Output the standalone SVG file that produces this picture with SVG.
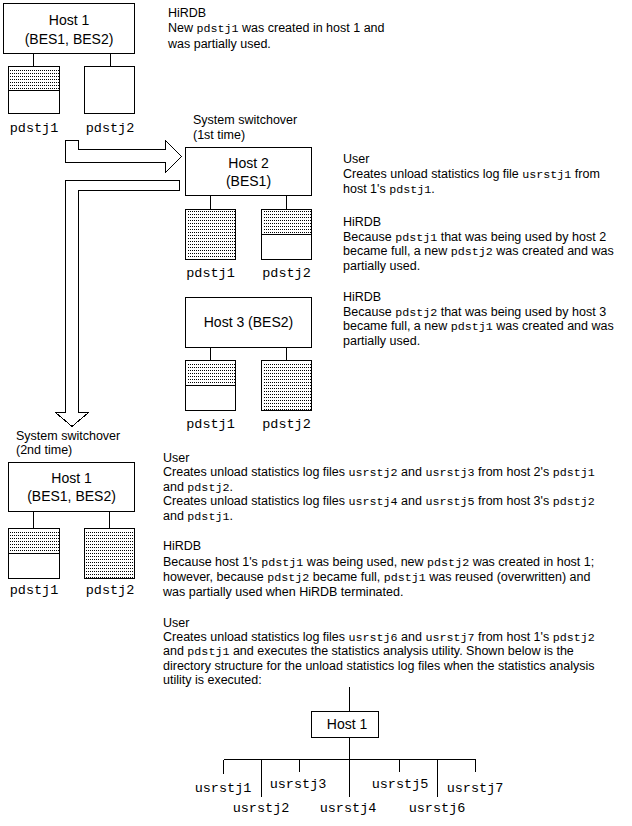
<svg xmlns="http://www.w3.org/2000/svg" width="632" height="826" viewBox="0 0 632 826">
<defs>
<pattern id="dots" x="0" y="0" width="2" height="3" patternUnits="userSpaceOnUse">
<rect x="0" y="1" width="1" height="1" fill="#000"/>
</pattern>
<style>
.box{fill:#fff;stroke:#000;stroke-width:1}
.ln{stroke:#000;stroke-width:1;fill:none}
.dot{fill:url(#dots)}
.arrow{fill:#fff;stroke:#000;stroke-width:1}
.t{font-family:"Liberation Sans",Arial,sans-serif;font-size:12.5px;fill:#000}
.h{font-family:"Liberation Sans",Arial,sans-serif;font-size:14px;fill:#000;text-anchor:middle}
.m{font-family:"Liberation Mono","Courier New",monospace;font-size:11.7px}
.lab{font-family:"Liberation Mono","Courier New",monospace;font-size:13.5px;fill:#000;text-anchor:middle}
</style>
</defs>
<rect width="632" height="826" fill="#fff"/>

<g id="connectors" shape-rendering="crispEdges">
<polygon class="arrow" points="65.5,140.5 78.5,140.5 78.5,149.5 165.5,149.5 165.5,140.5 181.5,156.5 165.5,172.5 165.5,162.5 65.5,162.5"/>
<polygon class="arrow" points="65.5,180.5 179.5,180.5 179.5,190.5 78.5,190.5 78.5,412.5 88.5,412.5 72,426.5 55.5,412.5 65.5,412.5"/>
<path class="ln" d="M33.5,53.5V66.5M110.5,53.5V66.5"/>
<path class="ln" d="M210.5,195.5V209.5M286.5,195.5V209.5"/>
<path class="ln" d="M210.5,347.5V360.5M286.5,347.5V360.5"/>
<path class="ln" d="M33.5,511.5V528.5M109.5,511.5V528.5"/>
<path class="ln" d="M349.5,687V711.5M349.5,737.5V759.5M223.5,759.5H475.5M223.5,759.5V774M261.5,759.5V797M299.5,759.5V772M349.5,759.5V797M399.5,759.5V772M437.5,759.5V797M475.5,759.5V772"/>
</g>

<g id="host1-top" shape-rendering="crispEdges">
<rect class="box" x="3.5" y="3.5" width="131" height="50"/>
<text class="h" x="69" y="24.5">Host 1</text>
<text class="h" x="69" y="43.5">(BES1, BES2)</text>
</g>
<g id="h1-pdstj1" shape-rendering="crispEdges">
<rect class="box" x="8.5" y="66.5" width="51" height="47"/>
<rect class="dot" x="10" y="68" width="49" height="22"/>
<path class="ln" d="M8.5,90.5H59.5"/>
<text class="lab" x="34" y="132">pdstj1</text>
</g>
<g id="h1-pdstj2" shape-rendering="crispEdges">
<rect class="box" x="84.5" y="66.5" width="50" height="47"/>
<text class="lab" x="110" y="132">pdstj2</text>
</g>
<g id="note1">
<text class="t" x="168" y="17">HiRDB</text>
<text class="t" x="168" y="32">New <tspan class="m">pdstj1</tspan> was created in host 1 and</text>
<text class="t" x="168" y="48">was partially used.</text>
</g>

<g id="switch1">
<text class="t" x="193" y="124">System switchover</text>
<text class="t" x="193" y="139">(1st time)</text>
</g>

<g id="host2" shape-rendering="crispEdges">
<rect class="box" x="185.5" y="147.5" width="126" height="48"/>
<text class="h" x="248.5" y="167.5">Host 2</text>
<text class="h" x="248.5" y="185.5">(BES1)</text>
</g>
<g id="h2-pdstj1" shape-rendering="crispEdges">
<rect class="box" x="185.5" y="209.5" width="50" height="50"/>
<rect class="dot" x="187" y="211" width="48" height="48"/>
<text class="lab" x="210.5" y="277">pdstj1</text>
</g>
<g id="h2-pdstj2" shape-rendering="crispEdges">
<rect class="box" x="261.5" y="209.5" width="50" height="50"/>
<rect class="dot" x="263" y="211" width="48" height="23"/>
<path class="ln" d="M261.5,234.5H311.5"/>
<text class="lab" x="286.5" y="277">pdstj2</text>
</g>

<g id="host3" shape-rendering="crispEdges">
<rect class="box" x="185.5" y="297.5" width="126" height="50"/>
<text class="h" x="248.5" y="327">Host 3 (BES2)</text>
</g>
<g id="h3-pdstj1" shape-rendering="crispEdges">
<rect class="box" x="185.5" y="360.5" width="50" height="50"/>
<rect class="dot" x="187" y="362" width="48" height="23"/>
<path class="ln" d="M185.5,385.5H235.5"/>
<text class="lab" x="210.5" y="428">pdstj1</text>
</g>
<g id="h3-pdstj2" shape-rendering="crispEdges">
<rect class="box" x="261.5" y="360.5" width="50" height="50"/>
<rect class="dot" x="263" y="362" width="48" height="48"/>
<text class="lab" x="286.5" y="428">pdstj2</text>
</g>

<g id="note2">
<text class="t" x="343" y="163">User</text>
<text class="t" x="343" y="178">Creates unload statistics log file <tspan class="m">usrstj1</tspan> from</text>
<text class="t" x="343" y="193">host 1's <tspan class="m">pdstj1</tspan>.</text>
<text class="t" x="343" y="226">HiRDB</text>
<text class="t" x="343" y="241">Because <tspan class="m">pdstj1</tspan> that was being used by host 2</text>
<text class="t" x="343" y="255">became full, a new <tspan class="m">pdstj2</tspan> was created and was</text>
<text class="t" x="343" y="270">partially used.</text>
<text class="t" x="343" y="301">HiRDB</text>
<text class="t" x="343" y="316">Because <tspan class="m">pdstj2</tspan> that was being used by host 3</text>
<text class="t" x="343" y="330">became full, a new <tspan class="m">pdstj1</tspan> was created and was</text>
<text class="t" x="343" y="345">partially used.</text>
</g>

<g id="switch2">
<text class="t" x="16" y="440">System switchover</text>
<text class="t" x="16" y="454">(2nd time)</text>
</g>

<g id="host1-bottom" shape-rendering="crispEdges">
<rect class="box" x="8.5" y="462.5" width="126" height="49"/>
<text class="h" x="71.5" y="483">Host 1</text>
<text class="h" x="71.5" y="501">(BES1, BES2)</text>
</g>
<g id="b-pdstj1" shape-rendering="crispEdges">
<rect class="box" x="8.5" y="528.5" width="51" height="50"/>
<rect class="dot" x="10" y="530" width="49" height="23"/>
<path class="ln" d="M8.5,553.5H59.5"/>
<text class="lab" x="34" y="594">pdstj1</text>
</g>
<g id="b-pdstj2" shape-rendering="crispEdges">
<rect class="box" x="84.5" y="528.5" width="50" height="50"/>
<rect class="dot" x="86" y="530" width="48" height="48"/>
<text class="lab" x="110" y="594">pdstj2</text>
</g>

<g id="note3">
<text class="t" x="163" y="462">User</text>
<text class="t" x="163" y="476">Creates unload statistics log files <tspan class="m">usrstj2</tspan> and <tspan class="m">usrstj3</tspan> from host 2's <tspan class="m">pdstj1</tspan></text>
<text class="t" x="163" y="491">and <tspan class="m">pdstj2</tspan>.</text>
<text class="t" x="163" y="505">Creates unload statistics log files <tspan class="m">usrstj4</tspan> and <tspan class="m">usrstj5</tspan> from host 3's <tspan class="m">pdstj2</tspan></text>
<text class="t" x="163" y="520">and <tspan class="m">pdstj1</tspan>.</text>
<text class="t" x="163" y="550">HiRDB</text>
<text class="t" x="163" y="566">Because host 1's <tspan class="m">pdstj1</tspan> was being used, new <tspan class="m">pdstj2</tspan> was created in host 1;</text>
<text class="t" x="163" y="581">however, because <tspan class="m">pdstj2</tspan> became full, <tspan class="m">pdstj1</tspan> was reused (overwritten) and</text>
<text class="t" x="163" y="596">was partially used when HiRDB terminated.</text>
<text class="t" x="163" y="627">User</text>
<text class="t" x="163" y="641">Creates unload statistics log files <tspan class="m">usrstj6</tspan> and <tspan class="m">usrstj7</tspan> from host 1's <tspan class="m">pdstj2</tspan></text>
<text class="t" x="163" y="655">and <tspan class="m">pdstj1</tspan> and executes the statistics analysis utility. Shown below is the</text>
<text class="t" x="163" y="670">directory structure for the unload statistics log files when the statistics analysis</text>
<text class="t" x="163" y="684">utility is executed:</text>
</g>

<g id="tree-host1" shape-rendering="crispEdges">
<rect class="box" x="311.5" y="711.5" width="67" height="26"/>
<text class="h" x="347" y="729">Host 1</text>
</g>
<g id="tree-files">
<text class="lab" x="223" y="792">usrstj1</text>
<text class="lab" x="261" y="812">usrstj2</text>
<text class="lab" x="298" y="788">usrstj3</text>
<text class="lab" x="348" y="812">usrstj4</text>
<text class="lab" x="400" y="788">usrstj5</text>
<text class="lab" x="437" y="812">usrstj6</text>
<text class="lab" x="475" y="792">usrstj7</text>
</g>
</svg>
